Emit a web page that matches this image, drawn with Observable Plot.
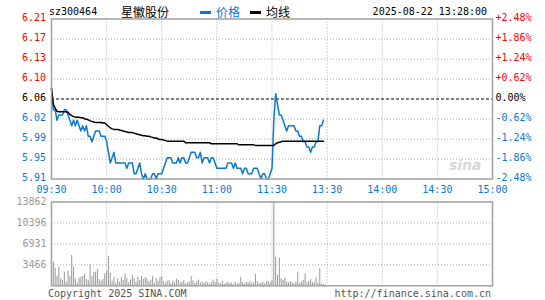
<!DOCTYPE html>
<html><head><meta charset="utf-8">
<script src="https://cdn.jsdelivr.net/npm/d3@7"></script>
<script src="https://cdn.jsdelivr.net/npm/@observablehq/plot@0.6"></script>
<style>
body{margin:0;background:#fff;}
#wrap{position:relative;width:545px;height:300px;overflow:hidden;font-family:"DejaVu Sans Mono",monospace;font-size:10px;color:#000;}
.t{position:absolute;white-space:nowrap;line-height:12px;}
.cjk{font-family:"Noto Sans CJK SC",sans-serif;font-size:12px;line-height:14px;}
.dash{position:absolute;height:3px;width:11px;}
#wrap svg{position:absolute;left:0;}
</style></head><body><div id="wrap"></div>
<script>
// ---- data ----
const stockCode = "sz300464";
const stockName = "星徽股份";
const legendPrice = "价格";
const legendAvg = "均线";
const stamp = "2025-08-22 13:28:00";
const prevClose = 6.06;
const yMax = 6.21;
const yMin = 5.91;
const priceLabels = ["6.21","6.17","6.13","6.10","6.06","6.02","5.99","5.95","5.91"];
const pctLabels = ["+2.48%","+1.86%","+1.24%","+0.62%","0.00%","-0.62%","-1.24%","-1.86%","-2.48%"];
const timeLabels = ["09:30","10:00","10:30","11:00","11:30","13:30","14:00","14:30","15:00"];
const volMax = 13862;
const volLabels = ["13862","10396","6931","3466"];
const totalMinutes = 240;

const price = [
6.08,6.04,6.04,6.02,6.03,6.03,6.03,6.04,6.04,6.03,
6.02,6.01,6.02,6.01,6.02,6.01,6.00,6.01,6.00,6.01,
5.99,5.99,5.98,5.99,6.00,6.00,6.00,5.99,5.99,5.99,
5.98,5.96,5.94,5.95,5.96,5.94,5.94,5.94,5.94,5.94,
5.94,5.93,5.94,5.94,5.94,5.92,5.92,5.93,5.94,5.92,
5.91,5.92,5.91,5.91,5.91,5.92,5.92,5.91,5.92,5.92,
5.92,5.93,5.94,5.95,5.95,5.95,5.94,5.94,5.94,5.95,
5.94,5.95,5.95,5.94,5.94,5.95,5.96,5.96,5.96,5.95,
5.95,5.96,5.94,5.95,5.95,5.95,5.94,5.95,5.95,5.94,
5.93,5.93,5.93,5.93,5.93,5.93,5.94,5.94,5.94,5.93,
5.94,5.93,5.93,5.93,5.92,5.93,5.93,5.92,5.92,5.92,
5.93,5.93,5.93,5.92,5.91,5.92,5.92,5.91,5.91,5.92,
5.93,6.02,6.07,6.05,6.03,6.03,6.02,6.01,6.00,6.01,
6.01,6.01,6.01,6.00,6.00,5.99,5.99,5.98,5.98,5.97,
5.97,5.96,5.97,5.97,5.98,5.98,6.01,6.01,6.02
];
const avg = [
6.080,6.050,6.043,6.037,6.036,6.036,6.036,6.036,6.036,6.035,
6.031,6.029,6.027,6.026,6.026,6.026,6.025,6.025,6.023,6.022,
6.021,6.019,6.018,6.017,6.016,6.016,6.016,6.016,6.015,6.015,
6.012,6.009,6.006,6.004,6.003,6.003,6.003,6.002,6.001,6.000,
5.999,5.998,5.997,5.997,5.997,5.996,5.995,5.994,5.993,5.992,
5.991,5.991,5.990,5.990,5.989,5.988,5.987,5.987,5.985,5.984,
5.984,5.983,5.982,5.981,5.981,5.981,5.981,5.981,5.981,5.981,
5.981,5.981,5.981,5.978,5.978,5.978,5.978,5.978,5.978,5.978,
5.978,5.978,5.978,5.978,5.978,5.978,5.978,5.976,5.976,5.976,
5.976,5.976,5.976,5.976,5.976,5.976,5.976,5.976,5.976,5.976,
5.976,5.976,5.974,5.974,5.974,5.974,5.974,5.974,5.974,5.974,
5.974,5.973,5.973,5.973,5.973,5.973,5.973,5.973,5.973,5.973,
5.973,5.973,5.976,5.978,5.979,5.980,5.981,5.981,5.981,5.981,
5.981,5.981,5.981,5.981,5.981,5.981,5.981,5.981,5.981,5.981,
5.981,5.981,5.981,5.981,5.981,5.981,5.981,5.981,5.981
];
const volume = [
1257,3909,2916,1588,3077,1147,871,2250,596,2416,
1533,5011,3077,1147,430,1257,1423,1533,1974,1036,
871,3519,1533,2250,2250,2692,1036,761,1036,1974,
2527,4845,2085,760,1400,430,1150,590,1310,870,
1970,1210,520,980,1700,1250,620,1420,880,1530,
1040,1360,1100,640,940,1580,420,1250,760,1310,
1520,690,430,780,860,350,760,540,1080,920,
480,650,860,330,500,640,1560,850,380,720,
940,450,610,380,720,480,290,520,980,600,
1110,480,360,720,280,440,610,380,480,260,
590,320,440,1380,520,300,600,450,700,380,
510,1870,690,340,480,560,310,640,760,520,
880,13862,4730,1700,4570,1200,880,1300,600,500,
700,500,400,600,2250,400,650,900,1990,500,
700,1000,500,600,1300,400,2810,300,200
];

// ---- styles ----
const BLUE = "#0b78d0", RED = "#f00", GRID = "#aaa", FRAME = "#a0a0a0", GRAY = "#999";

const rows = price.map((p, i) => ({i, p, a: avg[i], v: volume[i]}));
const yTicks = priceLabels.map((label, k) => ({k, v: yMax - k * (yMax - yMin) / (priceLabels.length - 1), label, pct: pctLabels[k]}));
const xTicks = timeLabels.map((label, k) => ({label, i: k * totalMinutes / (timeLabels.length - 1)}));
const vTicks = volLabels.map((label, k) => ({label, v: volMax * (volLabels.length - k) / volLabels.length}));
const innerX = xTicks.slice(1, -1).map(d => d.i);

const font = {fontFamily: "'DejaVu Sans Mono', monospace", fontSize: "10px", background: "transparent", overflow: "visible"};
const colorOf = k => k < 4 ? RED : (k === 4 ? "#000" : BLUE);
const groups = [[0,1,2,3],[4],[5,6,7,8]];

const priceChart = Plot.plot({
  width: 545, height: 196,
  marginLeft: 51, marginRight: 53, marginTop: 18.5, marginBottom: 17.5,
  x: {domain: [0, totalMinutes], axis: null},
  y: {domain: [yMin, yMax], axis: null},
  style: font,
  marks: [
    Plot.ruleY(yTicks.filter(d => d.k > 0 && d.k < 8 && d.k !== 4), {y: "v", stroke: GRID, strokeDasharray: "1,2"}),
    Plot.ruleX(innerX, {stroke: GRID, strokeDasharray: "1,2"}),
    Plot.ruleY([prevClose], {stroke: "#000", strokeDasharray: "3,2"}),
    Plot.text(["sina"], {frameAnchor: "bottom-right", text: d => d, dx: -11, dy: -9, lineAnchor: "bottom", textAnchor: "end",
      fill: "#d6d6d6", fontSize: 14, fontWeight: "bold", fontStyle: "italic", fontFamily: "'DejaVu Sans', sans-serif"}),
    Plot.line(rows, {x: "i", y: "p", stroke: BLUE, strokeWidth: 1.5}),
    Plot.line(rows, {x: "i", y: "a", stroke: "#000", strokeWidth: 1.5}),
    Plot.frame({stroke: FRAME, strokeWidth: 1.5}),
    ...groups.map(g => Plot.text(yTicks.filter(d => g.includes(d.k)), {frameAnchor: "left", y: "v", text: "label", textAnchor: "end", dx: -5.5, dy: -1, fill: colorOf(g[0])})),
    ...groups.map(g => Plot.text(yTicks.filter(d => g.includes(d.k)), {frameAnchor: "right", y: "v", text: "pct", textAnchor: "start", dx: 3, dy: -1, fill: colorOf(g[0])})),
    Plot.text(xTicks, {x: "i", frameAnchor: "bottom", text: "label", dy: 10.5, lineAnchor: "middle", fill: BLUE})
  ]
});

const volChart = Plot.plot({
  width: 545, height: 104,
  marginLeft: 51, marginRight: 53, marginTop: 5.5, marginBottom: 14.7,
  x: {domain: [0, totalMinutes], axis: null},
  y: {domain: [0, volMax], axis: null},
  style: font,
  marks: [
    Plot.ruleY(vTicks.slice(1), {y: "v", stroke: GRID, strokeDasharray: "1,2"}),
    Plot.ruleX(innerX, {stroke: GRID, strokeDasharray: "1,2"}),
    Plot.ruleX(rows, {x: "i", y1: 0, y2: "v", stroke: GRAY, strokeWidth: 1}),
    Plot.frame({stroke: FRAME, strokeWidth: 1.5}),
    Plot.text(vTicks, {frameAnchor: "left", y: "v", text: "label", textAnchor: "end", dx: -5, fill: GRAY})
  ]
});

const wrap = document.getElementById("wrap");
priceChart.style.top = "0px";
volChart.style.top = "196px";
wrap.append(priceChart, volChart);

function addText(txt, css, cls) {
  const d = document.createElement("div");
  d.className = "t" + (cls ? " " + cls : "");
  d.textContent = txt;
  Object.assign(d.style, css);
  wrap.append(d);
  return d;
}
function addDash(left, color) {
  const d = document.createElement("div");
  d.className = "dash";
  Object.assign(d.style, {left: left + "px", top: "11px", background: color});
  wrap.append(d);
}
addText(stockCode, {left: "49px", top: "6px"});
addText(stockName, {left: "121px", top: "5px"}, "cjk");
addDash(200, BLUE);
addText(legendPrice, {left: "216px", top: "5px", color: BLUE}, "cjk");
addDash(250, "#000");
addText(legendAvg, {left: "266px", top: "5px"}, "cjk");
addText(stamp, {right: "58px", top: "6px"});
addText("Copyright 2025 SINA.COM", {left: "48px", top: "288px", color: "#555"});
addText("http://finance.sina.com.cn", {right: "54px", top: "288px", color: "#555"});
</script></body></html>
